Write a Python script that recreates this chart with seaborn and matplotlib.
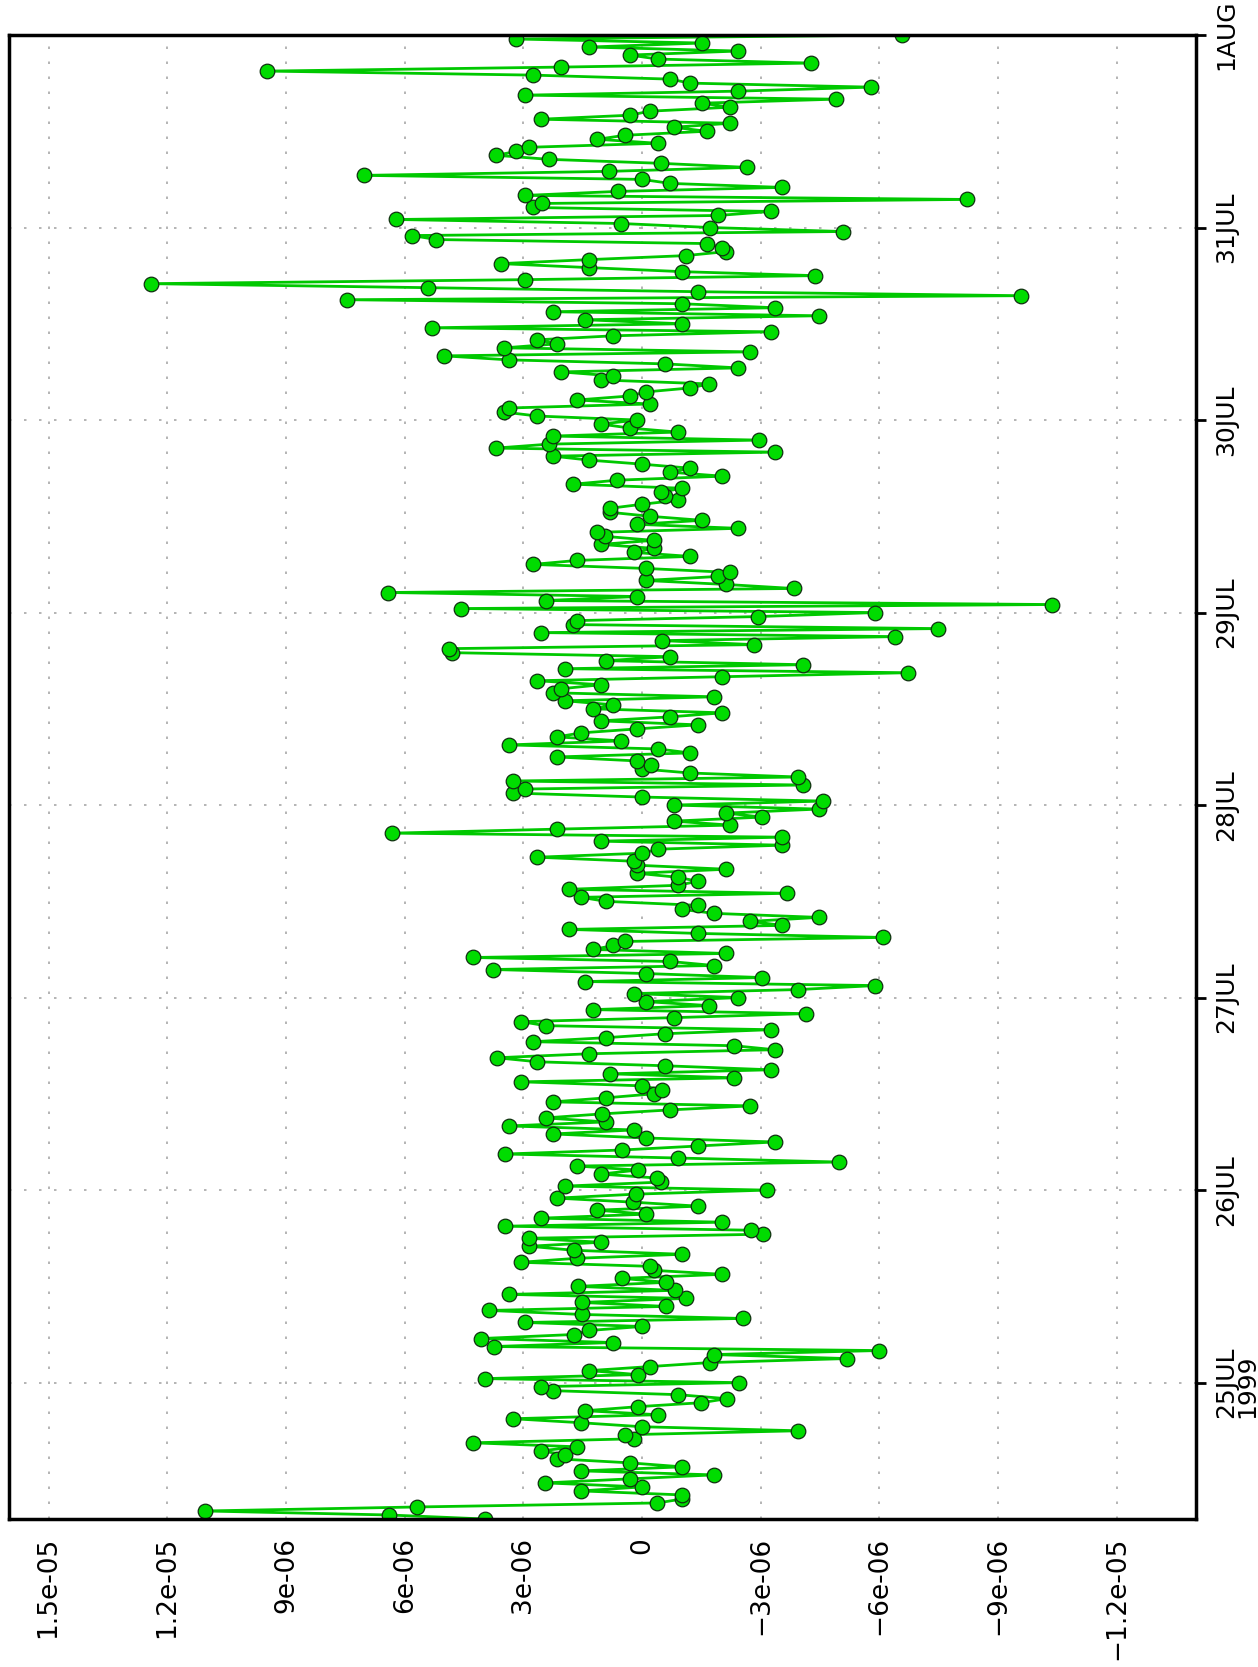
import numpy as np
import pandas as pd
import matplotlib
matplotlib.use("Agg")
import matplotlib.pyplot as plt
import seaborn as sns

sns.set_style("white")
plt.rcParams['font.family'] = ['DejaVu Sans']

# values, in units of 1e-6, every 30 min from 24JUL1999 07Z
vals_24jul = [3.97, 6.39, 11.05, 5.68, -0.39, -1.02, -1.02, 1.54, 0.0, 2.45,
              0.31, -1.81, 1.54, -1.02, 0.31, 2.15, 1.94, 2.55, 1.64, 4.28,
              0.21, 0.44, -3.95, 0.0, 1.54, 3.26, -0.40, 1.43, 0.11, -1.50,
              -2.14, -0.91, 2.25, 2.55]
vals_25jul = [-2.44, 3.97, 0.11, 1.33, -0.19, -1.71,
              -5.18, -1.81, -5.98, 3.75, 0.73, 4.06, 1.73, 1.33, 0.01, 2.95,
              -2.54, 1.53, 3.86, -0.61, 1.53, -1.11, 3.37, -0.82, 1.63, -0.61,
              0.51, -2.03, -0.29, -0.19, 3.07, 1.65, -1.02, 1.73, 2.85, 1.04,
              2.87, -3.05, -2.76, 3.46, -2.03, 2.56, -0.10, 1.13, -1.42, 0.24,
              2.15, 0.15]
vals_26jul = [-3.15, 1.94, -0.48, -0.39, 1.04, 0.11, 1.64, -4.98,
              -0.92, 3.46, 0.51,
              -1.41, -3.35, -0.09, 2.25, 0.21, 3.37, 0.92, 2.44, 1.02, -0.71,
              -2.74, 2.25, 0.92, -0.29, -0.51, 0.0, 3.05, -2.33, 0.81, -3.25,
              -0.59, 2.65, 3.67, 1.33, -3.35, -2.33, 2.75, 0.92, -0.59, -3.25,
              2.44, 3.05, -0.80, -4.14, 1.23,
              -1.70, -0.09]
vals_27jul = [-2.43, 0.21, -3.95, -5.89, 1.43, -3.03, -0.09, 3.77,
              -1.82, -0.71, 4.28, -2.13, 1.23, 0.73, 0.43, -6.08, -1.41, 1.84,
              -3.54, -2.74, -4.46, -1.82, -1.00, -1.41, 0.92, 1.54, -3.66, 1.84,
              -0.90, -1.41, -0.90, 0.12,
              -2.13, 0.12, 0.21, 2.65, 0.0, -0.40, -3.54, 1.04, -3.54, 6.31,
              2.15, -2.23, -0.80, -3.03, -2.13, -4.46]
vals_28jul = [-0.80, -4.58, 0.0, 3.26, 2.95, -4.07, 3.26, -3.95, -1.21, 0.0,
              -0.22, 0.12, 2.15, -1.21, -0.40, 3.37, 0.52, 2.15, 1.54,
              0.12, -1.41, 1.04, -0.71, -2.03, 1.23, 0.73, 1.94, -1.82, 2.25,
              2.05, 1.04, 2.65, -2.03, -6.71, 1.94, -4.07, 0.92, -0.71, 4.81,
              4.89, -2.84, -0.51, -6.40, 2.56, -7.48, 1.74, 1.64, -2.93]
vals_29jul = [-5.89, 4.57, -10.35, 2.44, 0.12, 6.41,
              -3.83, -2.13, -0.09, -1.92, -2.23, -0.09, 2.76, 1.64, -1.21, 0.21,
              -0.29, 1.04, -0.29, 0.94, 1.13, -2.43, 0.12, -1.51, -0.20, 0.81,
              0.81, 0.0, -0.90, -0.59, -0.49, -1.00, 1.74, 0.63, -2.03, -0.71,
              -1.21, 0.0, 1.33, 2.25, -3.37,
              3.70, 2.34, -2.95, 2.25, -0.90, 0.31, 1.04]
vals_30jul = [0.12, 2.65, 3.50, 3.37, -0.19, 1.64, 0.31, -0.09, -1.21, -1.70,
              1.04, 0.73, 2.05, -2.43, -0.59, 3.37, 5.00, -2.74, 3.48, 2.15,
              2.65, 0.73, -3.25, 5.31, -1.00, 1.43, -4.46, 2.25,
              -3.35, -1.00, 7.45, -9.58, -1.41, 5.41, 12.42, 2.97, -4.37, -1.00,
              1.33, 3.57, 1.33, -1.11, -2.13, -2.03, -1.63, 5.20, 5.81, -5.08]
vals_31jul = [-1.72, 0.52, 6.21, -1.92, -3.25, 2.76, 2.54, -8.2, 2.97, 0.62,
              -3.54, -0.71, 0.0, 7.04, 0.84,
              -2.64, -0.49, 2.36, 3.68, 3.18, 2.87, -0.40, 1.13, 0.43, -1.63,
              -0.80, -2.23, 2.56, 0.31, -0.19, -2.23, -1.51, -4.89, 2.97, -2.43,
              -5.79, -1.21, -0.71, 2.76, 9.47, 2.05, -4.26, -0.40, 0.31, -2.43,
              1.33, -1.51, 3.18]
vals_1aug = [-6.58]

day_ticks = ["1999-07-25", "1999-07-26", "1999-07-27", "1999-07-28",
             "1999-07-29", "1999-07-30", "1999-07-31", "1999-08-01"]
day_labels = ["25JUL\n1999", "26JUL", "27JUL", "28JUL", "29JUL", "30JUL",
              "31JUL", "1AUG"]
val_ticks = [1.5e-5, 1.2e-5, 9e-6, 6e-6, 3e-6, 0, -3e-6, -6e-6, -9e-6, -1.2e-5]
val_labels = ["1.5e-05", "1.2e-05", "9e-06", "6e-06", "3e-06", "0",
              "\u22123e-06", "\u22126e-06", "\u22129e-06", "\u22121.2e-05"]

values = np.array(vals_24jul + vals_25jul + vals_26jul + vals_27jul + vals_28jul
                  + vals_29jul + vals_30jul + vals_31jul + vals_1aug) * 1e-6
times = pd.date_range("1999-07-24 07:00", periods=len(values), freq="30min")
df = pd.DataFrame({"time": times, "value": values})

W, H = 1258, 1667
fig = plt.figure(figsize=(W / 100, H / 100), dpi=100)
ax = fig.add_axes([9 / W, 1 - 1519 / H, (1196 - 9) / W, (1519 - 35) / H])

sns.lineplot(data=df, x="value", y="time", sort=False, estimator=None,
             orient="y", color="#00c800", linewidth=2.0, marker="o",
             markersize=10.5, markerfacecolor="#00dc00",
             markeredgecolor="#103010", markeredgewidth=0.9, ax=ax)

ax.set_xlim(1.6e-5, -1.4e-5)
ax.set_ylim(times[0], times[-1])
ax.set_xlabel("")
ax.set_ylabel("")

# rotated layout: time runs up the right side, values read along the bottom
ax.yaxis.tick_right()
ax.set_yticks(pd.to_datetime(day_ticks))
ax.set_yticklabels(day_labels, rotation=90, va="center", ha="left",
                   fontsize=18, linespacing=0.85)
ax.set_xticks(val_ticks)
ax.set_xticklabels(val_labels, rotation=90, va="top", ha="center", fontsize=19)
ax.tick_params(axis="both", direction="out", length=7, width=2, pad=6,
               colors="black")

ax.grid(True, color="#a8a8a8", linestyle=(0, (1.5, 7.5)), linewidth=1.2)
for s in ax.spines.values():
    s.set_linewidth(2.5)
    s.set_color("black")

fig.savefig("out.png", dpi=100)
